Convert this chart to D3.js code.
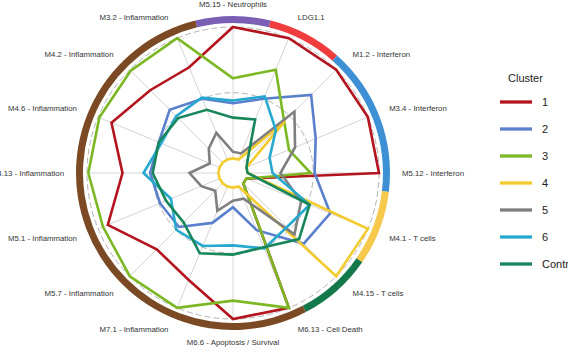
<!DOCTYPE html>
<html>
<head>
<meta charset="utf-8">
<script src="https://cdn.jsdelivr.net/npm/d3@7"></script>
<style>
  body { margin: 0; background: #fff; }
  svg { display: block; font-family: Arial, "Liberation Sans", sans-serif; }
</style>
</head>
<body>
<svg id="chart" width="568" height="352"></svg>
<script>
// modules on the radar, clockwise from the top
const axes = [
  "M5.15 - Neutrophils", "LDG1.1", "M1.2 - Interferon", "M3.4 - Interferon",
  "M5.12 - Interferon", "M4.1 - T cells", "M4.15 - T cells", "M6.13 - Cell Death",
  "M6.6 - Apoptosis / Survival", "M7.1 - Inflammation", "M5.7 - Inflammation",
  "M5.1 - Inflammation", "M4.13 - Inflammation", "M4.6 - Inflammation",
  "M4.2 - Inflammation", "M3.2 - Inflammation"
];

const clusters = ["1", "2", "3", "4", "5", "6", "Control"];
const clusterColors = ["#b3141e", "#5a7fcc", "#7cb824", "#f4cb2c", "#7f7f7f", "#27a9cf", "#17865a"];

// scaled module scores (0 = grid min, 1 = grid max)
const cluster1 = [1.0, 1.0, 1.0, 1.0, 1.0, 0.0, 0.0, 1.0, 1.0, 0.77, 0.71, 0.92, 0.73, 0.89, 0.78, 0.76];
const cluster2 = [0.42, 0.5, 0.73, 0.57, 0.51, 0.69, 0.65, 0.36, 0.15, 0.3, 0.47, 0.49, 0.52, 0.5, 0.57, 0.5];
const cluster3 = [0.61, 0.74, 0.44, 0.35, 0.48, 0.0, 0.0, 1.0, 0.86, 1.0, 1.0, 0.96, 0.99, 0.99, 0.99, 1.0];
const cluster4 = [0.0, 0.0, 0.45, 0.0, 0.0, 1.0, 1.0, 0.0, 0.0, 0.0, 0.0, 0.0, 0.0, 0.0, 0.0, 0.0];
const cluster5 = [0.05, 0.05, 0.55, 0.4, 0.25, 0.45, 0.55, 0.1, 0.1, 0.2, 0.08, 0.15, 0.22, 0.08, 0.15, 0.22];
const cluster6 = [0.44, 0.52, 0.35, 0.19, 0.19, 0.52, 0.47, 0.51, 0.44, 0.49, 0.5, 0.4, 0.57, 0.48, 0.5, 0.51];
const control  = [0.31, 0.33, 0.05, 0.0, 0.0, 0.52, 0.6, 0.5, 0.51, 0.55, 0.42, 0.44, 0.5, 0.5, 0.48, 0.41];

// module groups drawn on the outer ring
const ringGroups = ["Neutrophils", "LDG", "Interferon", "T cells", "Cell Death", "Inflammation"];
const ringSpans  = [1, 1, 2, 1, 1, 7];
const ringColors = ["#7b5fb5", "#ef3d3d", "#3d90d4", "#f6c84c", "#13794a", "#7b4a24"];

const series = [cluster1, cluster2, cluster3, cluster4, cluster5, cluster6, control];

const svg = d3.select("#chart");
const cx = 233, cy = 173;
const R = 146;

const r = d3.scaleLinear().domain([-1 / 9, 1]).range([0, R]);
const angle = d3.scaleLinear().domain([0, axes.length]).range([0, 2 * Math.PI]);

const g = svg.append("g").attr("transform", `translate(${cx},${cy})`);

// outer coloured ring
const nUnits = d3.sum(ringSpans);
const unit = d3.scaleLinear().domain([0, nUnits]).range([0, 2 * Math.PI]);
const ringArc = d3.arc().innerRadius(150).outerRadius(157);
let start = -0.5;
ringGroups.forEach((grp, i) => {
  g.append("path")
    .attr("d", ringArc({ startAngle: unit(start), endAngle: unit(start + ringSpans[i]) }))
    .attr("fill", ringColors[i]);
  start += ringSpans[i];
});

// spokes
g.selectAll("line.spoke")
  .data(axes)
  .join("line")
  .attr("class", "spoke")
  .attr("x1", (d, i) => r(0) * Math.sin(angle(i)))
  .attr("y1", (d, i) => -r(0) * Math.cos(angle(i)))
  .attr("x2", (d, i) => r(1) * Math.sin(angle(i)))
  .attr("y2", (d, i) => -r(1) * Math.cos(angle(i)))
  .attr("stroke", "#cfcfcf")
  .attr("stroke-width", 0.9);

// mid and max grid circles
[0.5, 1].forEach(v => {
  g.append("circle")
    .attr("r", r(v))
    .attr("fill", "none")
    .attr("stroke", "#b4b4b4")
    .attr("stroke-width", 1)
    .attr("stroke-dasharray", "6,3");
});

// cluster profiles
const radar = d3.lineRadial()
  .angle((d, i) => angle(i))
  .radius(d => r(d))
  .curve(d3.curveLinearClosed);

series.forEach((vals, k) => {
  g.append("path")
    .attr("d", radar(vals))
    .attr("fill", "none")
    .attr("stroke", clusterColors[k])
    .attr("stroke-width", 2.6)
    .attr("stroke-linejoin", "miter");
});

// axis labels
const labelR = 169;
g.selectAll("text.axis")
  .data(axes)
  .join("text")
  .attr("class", "axis")
  .attr("x", (d, i) => labelR * Math.sin(angle(i)))
  .attr("y", (d, i) => -labelR * Math.cos(angle(i)) + 3)
  .attr("text-anchor", (d, i) => {
    const s = Math.sin(angle(i));
    if (Math.abs(s) < 0.01) return "middle";
    return s > 0 ? "start" : "end";
  })
  .attr("font-size", "7.8px")
  .attr("fill", "#333")
  .text(d => d);

// legend
const legend = svg.append("g").attr("transform", "translate(500,0)");
legend.append("text")
  .attr("x", 8)
  .attr("y", 82)
  .attr("font-size", "11px")
  .attr("fill", "#222")
  .text("Cluster");

clusters.forEach((c, i) => {
  const y = 102 + i * 27;
  legend.append("line")
    .attr("x1", 0).attr("x2", 32)
    .attr("y1", y).attr("y2", y)
    .attr("stroke", clusterColors[i])
    .attr("stroke-width", 3.3);
  legend.append("text")
    .attr("x", 42)
    .attr("y", y + 4)
    .attr("font-size", "11px")
    .attr("fill", "#222")
    .text(c);
});
</script>
</body>
</html>
